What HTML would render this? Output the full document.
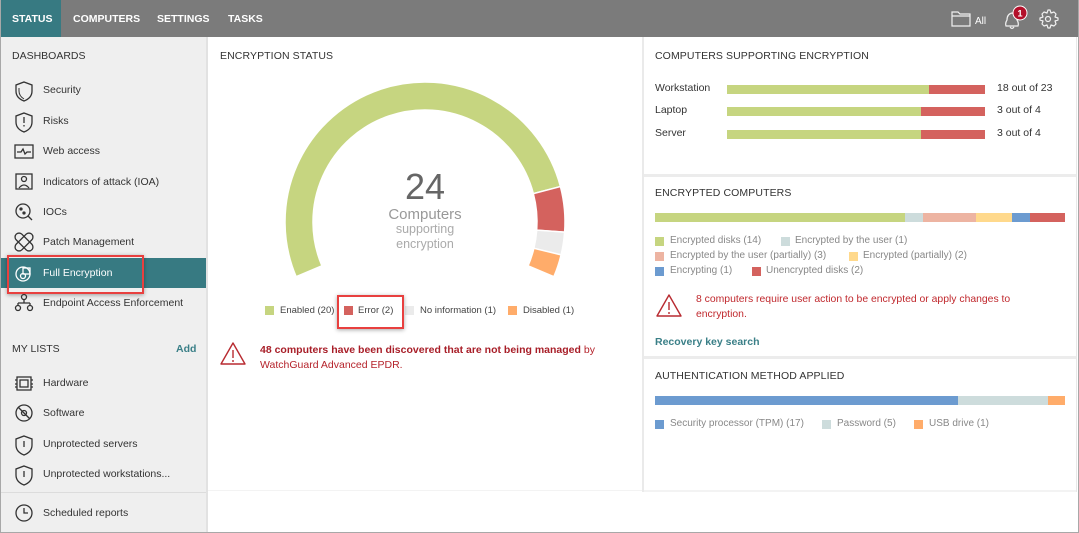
<!DOCTYPE html>
<html><head><meta charset="utf-8">
<style>
*{margin:0;padding:0;box-sizing:border-box}
body{width:1079px;height:533px;overflow:hidden;background:#fff;font-family:"Liberation Sans",Arial,sans-serif;position:relative}
.a{position:absolute;white-space:nowrap}
.nav{color:#fff;font-weight:bold;font-size:10.5px;top:13px}
.side{font-size:10.5px;color:#333;left:43px}
.ttl{font-size:10.5px;color:#333;letter-spacing:0.1px}
.lg{font-size:9.5px;color:#444}
.lg2{font-size:10px;color:#888}
.sq{position:absolute;width:9px;height:9px}
.bar{position:absolute;height:9px}
</style></head><body>

<!-- top bar -->
<div class="a" style="left:0;top:0;width:1079px;height:37px;background:#7b7b7b"></div>
<div class="a" style="left:0;top:0;width:61px;height:37px;background:#377a82"></div>
<div class="a nav" style="left:12px">STATUS</div>
<div class="a nav" style="left:73px">COMPUTERS</div>
<div class="a nav" style="left:157px">SETTINGS</div>
<div class="a nav" style="left:228px">TASKS</div>
<svg class="a" style="left:940px;top:0" width="139" height="37">
 <path d="M12 12 h6 l2 2 h10 v12 h-18 z M12 16 h18" fill="none" stroke="#f0f0f0" stroke-width="1.2"/>
 <text x="35" y="24" fill="#fff" font-size="10" font-family="Liberation Sans, sans-serif">All</text>
 <path d="M66 26 q-1-3 1-6 q0-6 5-7 q5 1 5 7 q2 3 1 6 z M70 27 q2 3 4 0" fill="none" stroke="#f0f0f0" stroke-width="1.2"/>
 <circle cx="80" cy="13" r="7" fill="#b3102a" stroke="#fff" stroke-width="1"/>
 <text x="80" y="16.5" fill="#fff" font-size="9" font-weight="bold" text-anchor="middle" font-family="Liberation Sans, sans-serif">1</text>
 <circle cx="108" cy="19" r="2.5" fill="none" stroke="#f0f0f0" stroke-width="1.2"/>
 <path d="M108 10 l2 0 l1 3 l3-1 l2 2 l-1 3 l3 1 v2 l-3 1 l1 3 l-2 2 l-3-1 l-1 3 h-2 l-1-3 l-3 1 l-2-2 l1-3 l-3-1 v-2 l3-1 l-1-3 l2-2 l3 1 z" fill="none" stroke="#f0f0f0" stroke-width="1.2" stroke-linejoin="round"/>
</svg>

<!-- sidebar -->
<div class="a" style="left:0;top:37px;width:206px;height:496px;background:#efefef"></div>
<div class="a" style="left:206px;top:37px;width:2px;height:496px;background:#e2e2e2"></div>
<div class="a" style="left:0;top:492px;width:206px;height:1px;background:#dcdcdc"></div>
<div class="a side" style="left:12px;top:50px">DASHBOARDS</div>
<div class="a side" style="top:84px">Security</div>
<div class="a side" style="top:115px">Risks</div>
<div class="a side" style="top:145px">Web access</div>
<div class="a side" style="top:176px">Indicators of attack (IOA)</div>
<div class="a side" style="top:206px">IOCs</div>
<div class="a side" style="top:236px">Patch Management</div>
<div class="a" style="left:0;top:258px;width:206px;height:30px;background:#377a82"></div>
<div class="a side" style="top:267px;color:#fff">Full Encryption</div>
<div class="a side" style="top:297px">Endpoint Access Enforcement</div>
<div class="a side" style="left:12px;top:343px">MY LISTS</div>
<div class="a" style="left:176px;top:343px;font-size:10.5px;font-weight:bold;color:#3a7f87">Add</div>
<div class="a side" style="top:377px">Hardware</div>
<div class="a side" style="top:407px">Software</div>
<div class="a side" style="top:438px">Unprotected servers</div>
<div class="a side" style="top:468px">Unprotected workstations...</div>
<div class="a side" style="top:507px">Scheduled reports</div>
<div class="a" style="left:7px;top:255px;width:137px;height:39px;border:2.5px solid #e8403f;box-shadow:0 1px 4px rgba(0,0,0,.35)"></div>

<svg class="a" style="left:0;top:0" width="206" height="533" fill="none" stroke="#333" stroke-width="1.3">
 <path d="M24 82 l8 3 v6 q0 7-8 10 q-8-3-8-10 v-6 z"/><path d="M19 88 v3 q0 5 5 8" stroke-width="1"/>
 <path d="M24 113 l8 3 v6 q0 7-8 10 q-8-3-8-10 v-6 z"/><path d="M24 117 v6 M24 125 v1.5"/>
 <rect x="15" y="145" width="18" height="13"/><path d="M17 152 h4 l2-3 l2 5 l2-2 h4"/>
 <rect x="16" y="174" width="16" height="15"/><circle cx="24" cy="179" r="2.5"/><path d="M19 188 q5-6 10 0"/>
 <circle cx="23" cy="211" r="7"/><path d="M28 216 l4 4"/><circle cx="21" cy="209" r="1" fill="#333"/><circle cx="24" cy="213" r="1" fill="#333"/>
 <rect x="20" y="231" width="8" height="22" rx="4" transform="rotate(45 24 242)"/>
 <rect x="20" y="231" width="8" height="22" rx="4" transform="rotate(-45 24 242)"/>
 <g stroke="#fff"><circle cx="23" cy="274" r="7"/><rect x="23" y="268" width="7" height="6"/><circle cx="23" cy="276" r="2.5"/></g>
 <circle cx="24" cy="297" r="2.5"/><path d="M24 300 v3 M18 303 h12 M18 303 v2 M30 303 v2"/><circle cx="18" cy="308" r="2.5"/><circle cx="30" cy="308" r="2.5"/>
 <rect x="17" y="377" width="14" height="13"/><rect x="20" y="380" width="8" height="7"/><path d="M15 380 h2 M15 384 h2 M15 387 h2 M31 380 h2 M31 384 h2 M31 387 h2"/>
 <circle cx="24" cy="413" r="8"/><circle cx="24" cy="413" r="2.5"/><path d="M18 407 l12 12"/>
 <path d="M24 436 l8 3 v6 q0 7-8 10 q-8-3-8-10 v-6 z"/><path d="M24 441 v6"/>
 <path d="M24 466 l8 3 v6 q0 7-8 10 q-8-3-8-10 v-6 z"/><path d="M24 471 v6"/>
 <circle cx="24" cy="513" r="8"/><path d="M24 508 v5 h4"/>
</svg>

<!-- main middle panel -->
<div class="a ttl" style="left:220px;top:50px">ENCRYPTION STATUS</div>
<svg class="a" style="left:0;top:0" width="643" height="300">
 <g stroke="#fff" stroke-width="1.5">
 <path d="M296.13 276.70 A140 140 0 1 1 560.44 186.55 L533.35 193.64 A112 112 0 1 0 321.90 265.76 Z" fill="#c6d580"/>
 <path d="M560.44 186.55 A140 140 0 0 1 564.63 232.18 L536.70 230.14 A112 112 0 0 0 533.35 193.64 Z" fill="#d4625e"/>
 <path d="M564.63 232.18 A140 140 0 0 1 561.09 254.87 L533.87 248.30 A112 112 0 0 0 536.70 230.14 Z" fill="#ebebeb"/>
 <path d="M561.09 254.87 A140 140 0 0 1 553.87 276.70 L528.10 265.76 A112 112 0 0 0 533.87 248.30 Z" fill="#ffac6a"/>
 </g>
 <text x="425" y="199" text-anchor="middle" font-size="36" fill="#666" font-family="Liberation Sans, sans-serif">24</text>
 <text x="425" y="219" text-anchor="middle" font-size="15" fill="#999" font-family="Liberation Sans, sans-serif">Computers</text>
 <text x="425" y="233" text-anchor="middle" font-size="12.5" fill="#aaa" font-family="Liberation Sans, sans-serif">supporting</text>
 <text x="425" y="248" text-anchor="middle" font-size="12.5" fill="#aaa" font-family="Liberation Sans, sans-serif">encryption</text>
</svg>
<div class="sq" style="left:265px;top:306px;background:#c6d580"></div>
<div class="a lg" style="left:280px;top:305px">Enabled (20)</div>
<div class="sq" style="left:344px;top:306px;background:#d4625e"></div>
<div class="a lg" style="left:358px;top:305px">Error (2)</div>
<div class="sq" style="left:405px;top:306px;background:#ebebeb"></div>
<div class="a lg" style="left:420px;top:305px">No information (1)</div>
<div class="sq" style="left:508px;top:306px;background:#ffac6a"></div>
<div class="a lg" style="left:523px;top:305px">Disabled (1)</div>
<div class="a" style="left:337px;top:295px;width:67px;height:34px;border:2.5px solid #e8403f;box-shadow:0 1px 4px rgba(0,0,0,.35)"></div>

<svg class="a" style="left:218px;top:340px" width="30" height="28" fill="none" stroke="#b82a30" stroke-width="1.4">
 <path d="M15 3 L27 24 H3 Z" stroke-linejoin="round"/><path d="M15 10 v8 M15 20 v2"/>
</svg>
<div class="a" style="left:260px;top:343px;font-size:10.5px;color:#b5232b;line-height:15px">
<b style="color:#a81e28">48 computers have been discovered that are not being managed</b> by<br>WatchGuard Advanced EPDR.</div>

<div class="a" style="left:208px;top:490px;width:435px;height:1px;background:#f3f3f3"></div>

<!-- divider -->
<div class="a" style="left:642px;top:37px;width:2px;height:455px;background:#eaeaea"></div>
<div class="a" style="left:644px;top:174px;width:433px;height:3px;background:#ececec"></div>
<div class="a" style="left:644px;top:356px;width:433px;height:3px;background:#ececec"></div>
<div class="a" style="left:644px;top:490px;width:433px;height:2px;background:#f3f3f3"></div>
<div class="a" style="left:1076px;top:37px;width:1px;height:455px;background:#e8e8e8"></div>

<!-- panel 1 -->
<div class="a ttl" style="left:655px;top:50px">COMPUTERS SUPPORTING ENCRYPTION</div>
<div class="a side" style="left:655px;top:82px">Workstation</div>
<div class="a side" style="left:655px;top:104px">Laptop</div>
<div class="a side" style="left:655px;top:127px">Server</div>
<div class="bar" style="left:727px;top:85px;width:202px;background:#c6d580"></div>
<div class="bar" style="left:929px;top:85px;width:56px;background:#d4625e"></div>
<div class="bar" style="left:727px;top:107px;width:194px;background:#c6d580"></div>
<div class="bar" style="left:921px;top:107px;width:64px;background:#d4625e"></div>
<div class="bar" style="left:727px;top:130px;width:194px;background:#c6d580"></div>
<div class="bar" style="left:921px;top:130px;width:64px;background:#d4625e"></div>
<div class="a side" style="left:997px;top:82px">18 out of 23</div>
<div class="a side" style="left:997px;top:104px">3 out of 4</div>
<div class="a side" style="left:997px;top:127px">3 out of 4</div>

<!-- panel 2 -->
<div class="a ttl" style="left:655px;top:187px">ENCRYPTED COMPUTERS</div>
<div class="bar" style="left:655px;top:213px;width:250px;background:#c6d580"></div>
<div class="bar" style="left:905px;top:213px;width:18px;background:#cddcdc"></div>
<div class="bar" style="left:923px;top:213px;width:53px;background:#edb4a2"></div>
<div class="bar" style="left:976px;top:213px;width:36px;background:#ffd98c"></div>
<div class="bar" style="left:1012px;top:213px;width:18px;background:#6c9bd0"></div>
<div class="bar" style="left:1030px;top:213px;width:35px;background:#d4625e"></div>
<div class="sq" style="left:655px;top:237px;background:#c6d580"></div>
<div class="a lg2" style="left:670px;top:235px">Encrypted disks (14)</div>
<div class="sq" style="left:781px;top:237px;background:#cddcdc"></div>
<div class="a lg2" style="left:795px;top:235px">Encrypted by the user (1)</div>
<div class="sq" style="left:655px;top:252px;background:#edb4a2"></div>
<div class="a lg2" style="left:670px;top:250px">Encrypted by the user (partially) (3)</div>
<div class="sq" style="left:849px;top:252px;background:#ffd98c"></div>
<div class="a lg2" style="left:863px;top:250px">Encrypted (partially) (2)</div>
<div class="sq" style="left:655px;top:267px;background:#6c9bd0"></div>
<div class="a lg2" style="left:670px;top:265px">Encrypting (1)</div>
<div class="sq" style="left:752px;top:267px;background:#d4625e"></div>
<div class="a lg2" style="left:766px;top:265px">Unencrypted disks (2)</div>
<svg class="a" style="left:654px;top:292px" width="30" height="27" fill="none" stroke="#b82a30" stroke-width="1.4">
 <path d="M15 3 L27 24 H3 Z" stroke-linejoin="round"/><path d="M15 10 v8 M15 20 v2"/>
</svg>
<div class="a" style="left:696px;top:292px;font-size:10.4px;color:#c0282d;line-height:15px">8 computers require user action to be encrypted or apply changes to<br>encryption.</div>
<div class="a" style="left:655px;top:336px;font-size:10.5px;font-weight:bold;color:#3a7f87">Recovery key search</div>

<!-- panel 3 -->
<div class="a ttl" style="left:655px;top:370px">AUTHENTICATION METHOD APPLIED</div>
<div class="bar" style="left:655px;top:396px;width:303px;background:#6c9bd0"></div>
<div class="bar" style="left:958px;top:396px;width:90px;background:#cddcdc"></div>
<div class="bar" style="left:1048px;top:396px;width:17px;background:#ffac6a"></div>
<div class="sq" style="left:655px;top:420px;background:#6c9bd0"></div>
<div class="a lg2" style="left:670px;top:418px">Security processor (TPM) (17)</div>
<div class="sq" style="left:822px;top:420px;background:#cddcdc"></div>
<div class="a lg2" style="left:837px;top:418px">Password (5)</div>
<div class="sq" style="left:914px;top:420px;background:#ffac6a"></div>
<div class="a lg2" style="left:929px;top:418px">USB drive (1)</div>

<!-- outer border -->
<div class="a" style="left:0;top:0;width:1079px;height:533px;border:1px solid #a8a8a8;border-top:none"></div>
</body></html>
